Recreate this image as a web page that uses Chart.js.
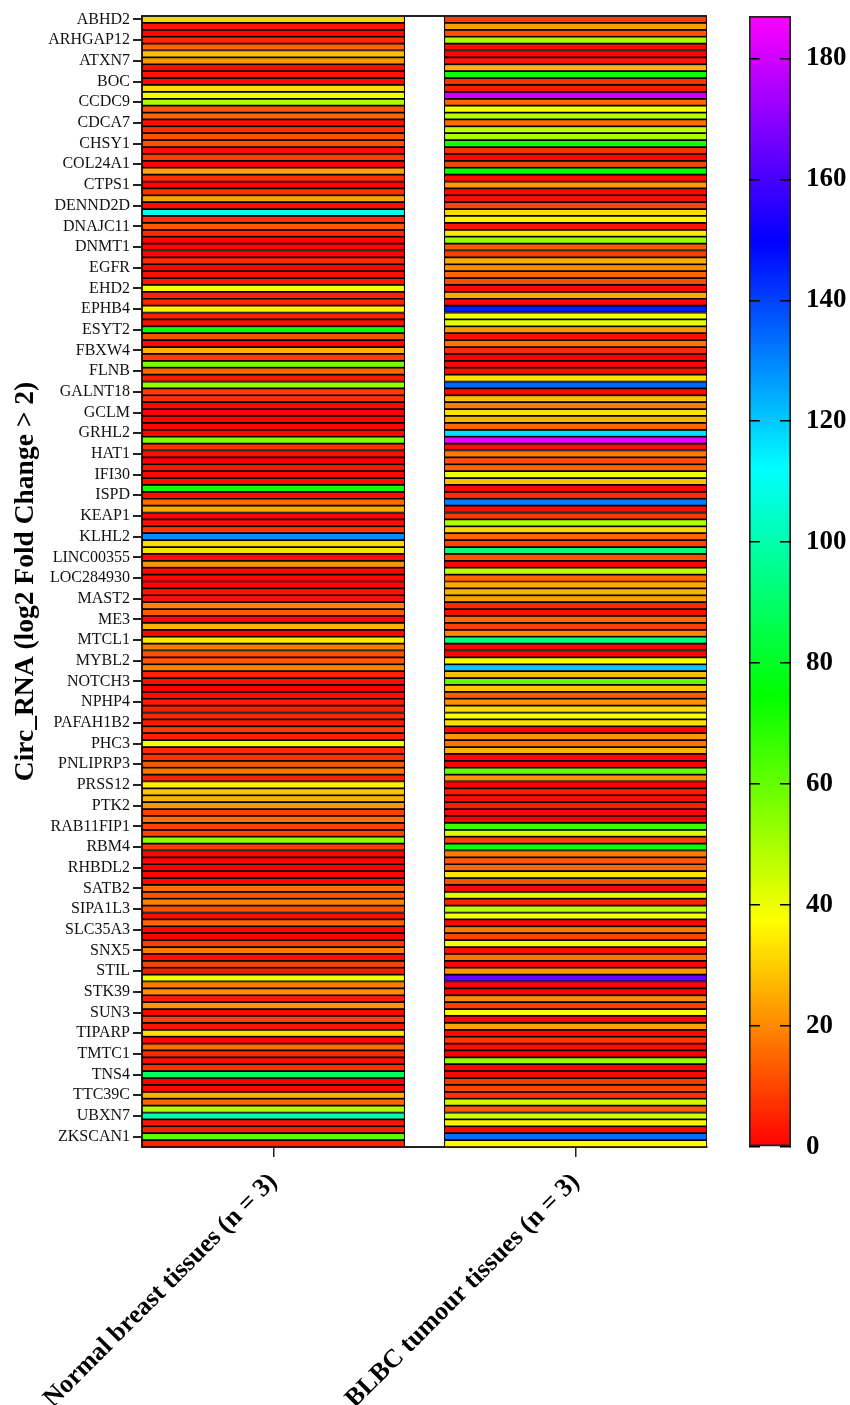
<!DOCTYPE html>
<html>
<head>
<meta charset="utf-8">
<title>Circ_RNA heatmap</title>
<script src="https://cdn.jsdelivr.net/npm/chart.js@4"></script>
<style>
  body { margin: 0; background: #fff; }
  #wrap { position: relative; width: 850px; height: 1405px; }
  canvas { position: absolute; left: 0; top: 0; }
</style>
</head>
<body>
<div id="wrap">
  <canvas id="heatmap" width="850" height="1405"></canvas>
  <canvas id="colorbar" width="850" height="1405"></canvas>
</div>
<script>
// every third row carries a gene label
const geneLabels = ['ABHD2','ARHGAP12','ATXN7','BOC','CCDC9','CDCA7','CHSY1','COL24A1','CTPS1','DENND2D','DNAJC11','DNMT1','EGFR','EHD2','EPHB4','ESYT2','FBXW4','FLNB','GALNT18','GCLM','GRHL2','HAT1','IFI30','ISPD','KEAP1','KLHL2','LINC00355','LOC284930','MAST2','ME3','MTCL1','MYBL2','NOTCH3','NPHP4','PAFAH1B2','PHC3','PNLIPRP3','PRSS12','PTK2','RAB11FIP1','RBM4','RHBDL2','SATB2','SIPA1L3','SLC35A3','SNX5','STIL','STK39','SUN3','TIPARP','TMTC1','TNS4','TTC39C','UBXN7','ZKSCAN1'];
const groupLabels = ['Normal breast tissues (n = 3)', 'BLBC tumour tissues (n = 3)'];

const normalValues = [
  31,3,1,6,15,28,22,2,3,1,32,40,50,13,15,2,7,12,12,2,9,1,24,7,1,7,23,2,110,7,13,6,1,1,1,6,1,2,3,39,
  5,5,36,5,2,73,12,1,26,9,57,15,4,53,9,7,1,0,1,1,1,56,7,2,0,3,1,2,72,2,16,25,1,2,8,129,32,33,2,22,
  1,1,1,3,2,19,13,1,26,1,34,18,12,13,19,5,2,0,2,4,5,6,4,9,5,39,6,7,13,17,5,35,29,26,22,9,17,10,10,54,
  9,1,1,0,1,1,16,12,19,12,2,15,1,0,9,18,2,10,4,39,18,21,4,22,1,10,3,33,1,16,6,2,7,88,0,1,26,15,49,100,
  3,5,61,5
];
const tumourValues = [
  9,23,12,50,2,1,3,26,73,7,4,179,15,39,48,16,46,50,72,7,1,10,74,2,23,1,2,10,32,36,3,34,53,13,9,25,21,15,11,1,
  25,1,146,39,41,22,2,17,6,0,1,2,33,135,1,28,18,33,26,15,117,184,2,18,12,15,40,28,1,7,131,2,9,49,31,15,10,92,12,1,
  46,15,25,26,23,6,2,16,9,20,93,1,1,38,120,28,61,29,13,21,32,38,33,1,22,17,26,1,0,60,22,0,4,2,4,1,0,66,42,10,
  73,18,13,15,34,12,1,42,5,47,39,1,18,10,38,2,17,1,22,165,1,0,20,9,37,1,24,1,8,2,0,52,1,1,8,10,7,45,13,44,
  36,1,133,37
];

const colorbarTicks = [0, 20, 40, 60, 80, 100, 120, 140, 160, 180];
const colorbarMax = 187;
const colorStops = [
  [0, [255, 0, 0]], [37.4, [255, 255, 0]], [74.8, [0, 255, 0]],
  [112.2, [0, 255, 255]], [149.6, [0, 0, 255]], [187, [255, 0, 255]]
];

const serif = '"Liberation Serif", "Times New Roman", serif';
const rowLabels = normalValues.map((_, i) => (i % 3 === 0 ? geneLabels[i / 3] : ''));

// x layout in column widths: column, small gap, column
const gapWidth = 0.15;
const columnRanges = [[0, 1], [1 + gapWidth, 2 + gapWidth]];

function colorFor(value) {
  for (let i = 1; i < colorStops.length; i++) {
    if (value <= colorStops[i][0]) {
      const [v0, c0] = colorStops[i - 1];
      const [v1, c1] = colorStops[i];
      const t = (value - v0) / (v1 - v0);
      const mix = c0.map((c, k) => Math.round(c + (c1[k] - c) * t));
      return `rgb(${mix[0]},${mix[1]},${mix[2]})`;
    }
  }
  return 'rgb(255,0,255)';
}

function columnDataset(label, values, range) {
  return {
    label: label,
    data: values.map(() => range),
    backgroundColor: values.map(colorFor),
    borderColor: '#000',
    borderWidth: 1.2,
    borderSkipped: false,
    categoryPercentage: 1,
    barPercentage: 1,
    grouped: false
  };
}

// top edge of the plot runs across the gap as well
const topFrame = {
  id: 'topFrame',
  afterDatasetsDraw(chart) {
    const { ctx, chartArea } = chart;
    ctx.save();
    ctx.strokeStyle = '#222';
    ctx.lineWidth = 2;
    ctx.beginPath();
    ctx.moveTo(chartArea.left, chartArea.top);
    ctx.lineTo(chartArea.right, chartArea.top);
    ctx.stroke();
    ctx.restore();
  }
};

new Chart(document.getElementById('heatmap').getContext('2d'), {
  type: 'bar',
  data: {
    labels: rowLabels,
    datasets: [
      columnDataset(groupLabels[0], normalValues, columnRanges[0]),
      columnDataset(groupLabels[1], tumourValues, columnRanges[1])
    ]
  },
  plugins: [topFrame],
  options: {
    indexAxis: 'y',
    responsive: false,
    animation: false,
    layout: { padding: { top: 16, right: 143, left: 0, bottom: 0 } },
    plugins: { legend: { display: false }, tooltip: { enabled: false } },
    scales: {
      x: {
        type: 'linear',
        min: 0,
        max: 2 + gapWidth,
        afterBuildTicks(scale) {
          scale.ticks = columnRanges.map(r => ({ value: (r[0] + r[1]) / 2 }));
        },
        afterFit(scale) { scale.height = 258; },
        grid: { drawOnChartArea: false, color: '#222', tickLength: 10, lineWidth: 1.5 },
        border: { color: '#222', width: 2 },
        ticks: {
          autoSkip: false,
          minRotation: 45,
          maxRotation: 45,
          padding: 10,
          color: '#000',
          font: { family: serif, size: 26, weight: 'bold' },
          callback: (value, index) => groupLabels[index]
        }
      },
      y: {
        type: 'category',
        offset: true,
        afterBuildTicks(scale) {
          scale.ticks = scale.ticks.filter(t => t.value % 3 === 0);
        },
        afterFit(scale) { scale.width = 142; },
        grid: { offset: false, drawOnChartArea: false, color: '#222', tickLength: 9, lineWidth: 2 },
        border: { color: '#222', width: 2 },
        title: {
          display: true,
          text: 'Circ_RNA (log2 Fold Change > 2)',
          color: '#000',
          font: { family: serif, size: 27.5, weight: 'bold' },
          padding: { top: 9, bottom: 0 }
        },
        ticks: {
          autoSkip: false,
          padding: 3,
          color: '#111',
          font: { family: serif, size: 16 }
        }
      }
    }
  }
});

// colour scale drawn as a single bar over the value axis
new Chart(document.getElementById('colorbar').getContext('2d'), {
  type: 'bar',
  data: {
    labels: [''],
    datasets: [{
      data: [[0, colorbarMax]],
      backgroundColor(ctx) {
        const y = ctx.chart.scales.y;
        if (!y || !ctx.chart.chartArea) return '#f00';
        const grad = ctx.chart.ctx.createLinearGradient(0, y.getPixelForValue(0), 0, y.getPixelForValue(colorbarMax));
        colorStops.forEach(s => grad.addColorStop(s[0] / colorbarMax, `rgb(${s[1].join(',')})`));
        return grad;
      },
      borderColor: '#222',
      borderWidth: 2,
      borderSkipped: false,
      categoryPercentage: 1,
      barPercentage: 1
    }]
  },
  options: {
    responsive: false,
    animation: false,
    layout: { padding: { top: 16, left: 749, right: 0, bottom: 258 } },
    plugins: { legend: { display: false }, tooltip: { enabled: false } },
    scales: {
      x: { display: false, offset: true },
      y: {
        position: 'right',
        min: 0,
        max: colorbarMax,
        afterBuildTicks(scale) {
          scale.ticks = colorbarTicks.map(v => ({ value: v }));
        },
        afterFit(scale) {
          scale.width = 59;
          scale.paddingTop = 0;
          scale.paddingBottom = 0;
        },
        grid: { drawTicks: false, z: 1, color: '#000', lineWidth: 1.5 },
        border: { display: false, dash: [11, 20, 11] },
        ticks: {
          padding: 15,
          color: '#000',
          font: { family: serif, size: 27, weight: 'bold' }
        }
      }
    }
  }
});
</script>
</body>
</html>
